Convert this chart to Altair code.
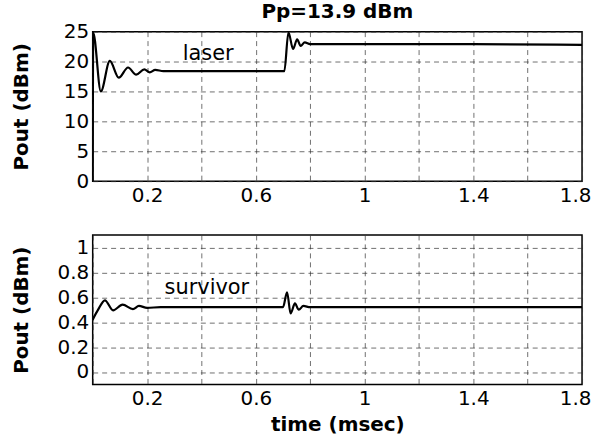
import altair as alt
import pandas as pd

# ---- data ----
laser_t = [0.0, 0.002, 0.03, 0.063, 0.096, 0.13, 0.16, 0.19, 0.21, 0.23, 0.26, 0.5, 0.705, 0.72, 0.737, 0.752, 0.765, 0.78, 0.8, 1.0, 1.4, 1.8]
laser_p = [0.0, 24.8, 15.0, 20.1, 17.3, 19.0, 17.8, 18.7, 18.2, 18.6, 18.4, 18.4, 18.4, 24.9, 22.1, 23.7, 22.6, 23.2, 22.9, 22.9, 22.9, 22.8]

surv_t = [0.0, 0.02, 0.045, 0.075, 0.11, 0.148, 0.17, 0.2, 0.25, 0.7, 0.715, 0.728, 0.744, 0.758, 0.775, 0.8, 1.8]
surv_p = [0.42, 0.50, 0.575, 0.495, 0.54, 0.505, 0.53, 0.515, 0.52, 0.52, 0.64, 0.47, 0.55, 0.50, 0.53, 0.52, 0.52]

x_ticks = [0.0, 0.2, 0.4, 0.6, 0.8, 1.0, 1.2, 1.4, 1.6, 1.8]
top_y_ticks = [0, 5, 10, 15, 20, 25]
bot_y_ticks = [0, 0.2, 0.4, 0.6, 0.8, 1.0]

title_text = ["Pp=13.9 dBm"]
labels_top = ["laser"]
labels_top_pos = [(0.425, 21.3)]
labels_bot = ["survivor"]
labels_bot_pos = [(0.42, 0.67)]

FONT = "DejaVu Sans"
W, H = 491, 150

laser_df = pd.DataFrame({"t": laser_t, "p": laser_p, "i": list(range(len(laser_t)))})
surv_df = pd.DataFrame({"t": surv_t, "p": surv_p, "i": list(range(len(surv_t)))})
top_lab = pd.DataFrame({"t": [p[0] for p in labels_top_pos], "p": [p[1] for p in labels_top_pos], "s": labels_top})
bot_lab = pd.DataFrame({"t": [p[0] for p in labels_bot_pos], "p": [p[1] for p in labels_bot_pos], "s": labels_bot})
title_df = pd.DataFrame({"s": title_text})

xscale = alt.Scale(domain=[0, 1.8], nice=False, zero=False)
label_expr = "(round(datum.value*10) % 4 == 2) ? datum.label : ''"


def xaxis(title):
    kw = dict(values=x_ticks, format="~g", labelExpr=label_expr, grid=True,
              labelPadding=4, labelFlush=True, labelFlushOffset=9)
    if title:
        return alt.Axis(title=title, titlePadding=6, **kw)
    return alt.Axis(title=None, **kw)


def yaxis(vals):
    return alt.Axis(values=vals, format="~g", title="Pout (dBm)", grid=True,
                    labelPadding=4, titleX=-71, titleY=H / 2, titleBaseline="middle",
                    titleAlign="center")


top_x = alt.X("t:Q", scale=xscale, axis=xaxis(None))
top_y = alt.Y("p:Q", scale=alt.Scale(domain=[0, 25], nice=False, zero=False), axis=yaxis(top_y_ticks))
bot_x = alt.X("t:Q", scale=xscale, axis=xaxis("time (msec)"))
bot_y = alt.Y("p:Q", scale=alt.Scale(domain=[-0.1, 1.1], nice=False, zero=False), axis=yaxis(bot_y_ticks))

top_line = alt.Chart(laser_df).mark_line(color="black", strokeWidth=2.2, clip=True,
                                         interpolate="monotone").encode(
    x=top_x, y=top_y, order=alt.Order("i:Q"),
)
top_text = alt.Chart(top_lab).mark_text(font=FONT, fontSize=21, color="black").encode(
    x=top_x, y=top_y, text="s:N"
)
title_mark = alt.Chart(title_df).mark_text(
    font=FONT, fontSize=20, fontWeight="bold", color="black", baseline="alphabetic", align="center"
).encode(x=alt.value(W / 2), y=alt.value(-14), text="s:N")
top = alt.layer(top_line, top_text, title_mark).properties(width=W, height=H)

bot_line = alt.Chart(surv_df).mark_line(color="black", strokeWidth=2.2, clip=True,
                                        interpolate="monotone").encode(
    x=bot_x, y=bot_y, order=alt.Order("i:Q"),
)
bot_text = alt.Chart(bot_lab).mark_text(font=FONT, fontSize=21, color="black").encode(
    x=bot_x, y=bot_y, text="s:N"
)
bot = alt.layer(bot_line, bot_text).properties(width=W, height=H)

chart = alt.vconcat(top, bot, spacing=28).properties(
    padding={"left": 11, "top": 0, "right": 0, "bottom": 2}
).configure_axis(
    labelFont=FONT, labelFontSize=20, labelColor="black",
    titleFont=FONT, titleFontSize=20, titleFontWeight="bold", titleColor="black",
    gridColor="#333333", gridDash=[5, 4], gridWidth=0.7, gridOpacity=1,
    domain=False, ticks=False,
).configure_view(stroke="black", strokeWidth=1.5)

chart.save("out.html", embed_options={"renderer": "svg", "actions": False})
